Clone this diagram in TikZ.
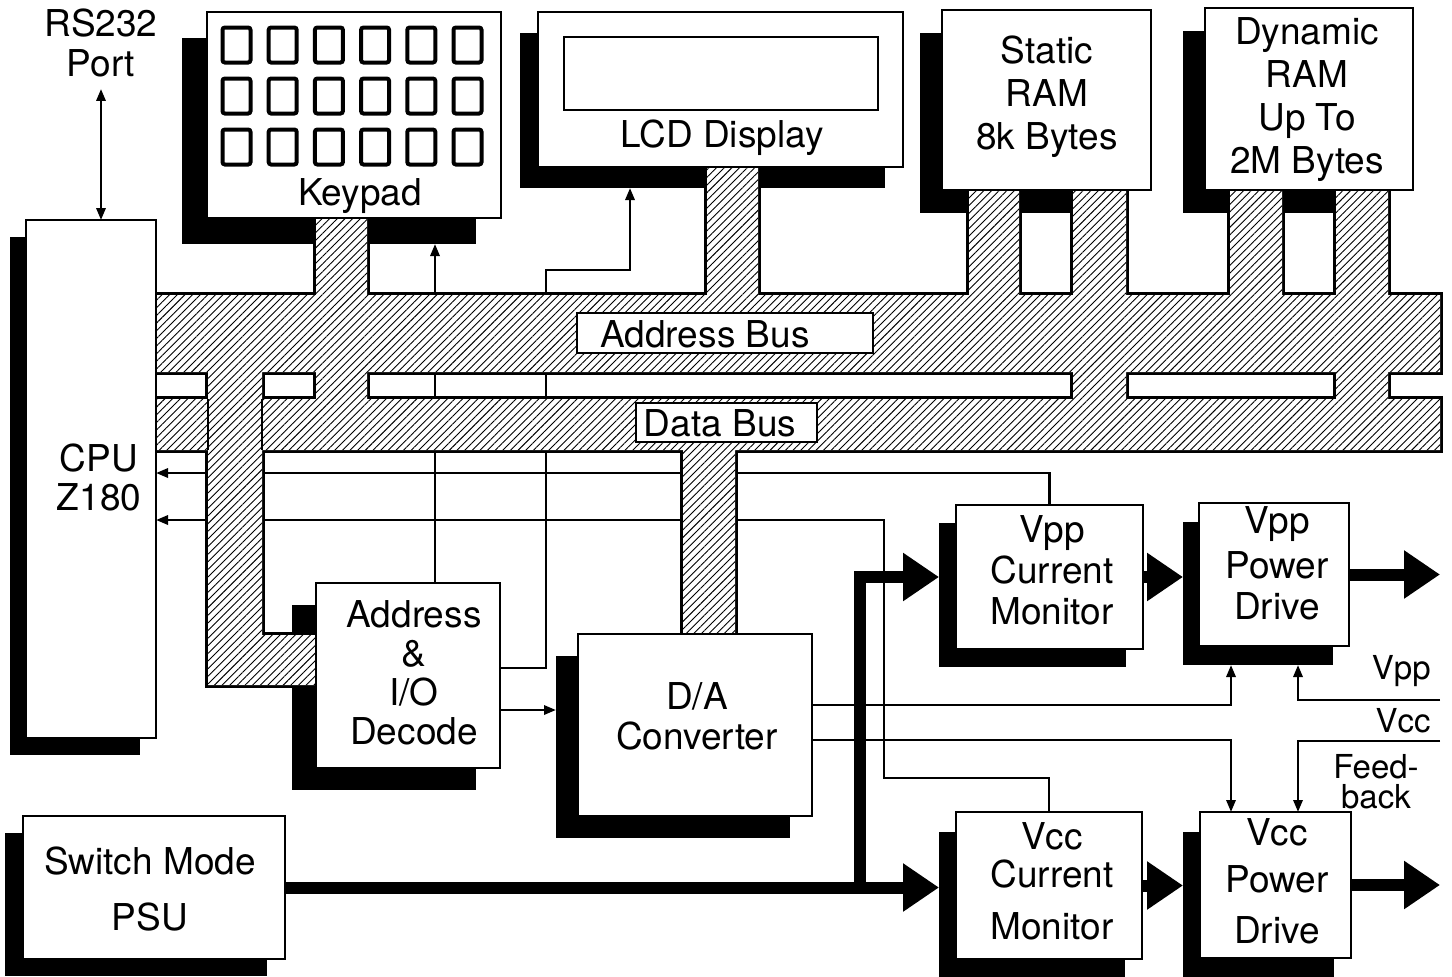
\documentclass[tikz,border=0pt]{standalone}
\usepackage{fontspec}
\setmainfont{TeX Gyre Heros}
\usetikzlibrary{fit,arrows.meta,patterns.meta}

\pgfdeclarelayer{shade}
\pgfdeclarelayer{wires}
\pgfdeclarelayer{bus}
\pgfsetlayers{shade,wires,bus,main}

\tikzset{
  txt/.style={font=\fontsize{18.5}{21.5}\selectfont, align=center, inner sep=0pt},
  sidetxt/.style={font=\fontsize{16.5}{15}\selectfont, align=center, inner sep=0pt},
  box/.style={draw, fill=white, line width=0.75pt, inner sep=0pt, outer sep=0pt},
  shadowbox/.style={fill=black, inner sep=0pt, outer sep=0pt},
  buslabel/.style={draw, fill=white, line width=0.75pt, inner sep=0pt},
  key/.style={line width=2pt, rounded corners=1.2pt},
  wire/.style={line width=1.25pt, >={Triangle[length=6pt,width=4.6pt]}},
  fat/.style={line width=6pt, -{Triangle[length=18pt,width=23pt]}},
  busedge/.style={line width=2.8pt},
  hatch/.style={pattern={Lines[angle=45,distance=2.7pt,line width=0.45pt]}},
  buspath/.style={insert path={
    (140,295) rectangle (1440,372)  (140,399) rectangle (1440,450)
    (316,200) rectangle (367,410)   (707,150) rectangle (758,300)
    (969,170) rectangle (1019,300)  (1073,170) rectangle (1126,410)
    (1230,170) rectangle (1282,300) (1336,170) rectangle (1388,410)
    (208,360) rectangle (262,685)   (208,635) rectangle (330,685)
    (683,440) rectangle (735,650)}},
}

\begin{document}
\begin{tikzpicture}[x=0.5pt, y=-0.5pt]
\useasboundingbox (0,0) rectangle (1452,976);

% blocks
\node[box, fit={(26,220) (156,738)}] (cpu) {};
\node[box, fit={(207,12) (501,218)}] (kp) {};
\node[box, fit={(538,12) (903,167)}] (lcd) {};
\node[box, fit={(942,10) (1151,190)}] (sram) {};
\node[box, fit={(1205,8) (1413,190)}] (dram) {};
\node[box, fit={(316,583) (500,768)}] (adec) {};
\node[box, fit={(578,634) (812,816)}] (dac) {};
\node[box, fit={(956,505) (1143,649)}] (vppcm) {};
\node[box, fit={(1199,503) (1349,646)}] (vpppd) {};
\node[box, fit={(956,812) (1142,959)}] (vcccm) {};
\node[box, fit={(1200,812) (1351,958)}] (vccpd) {};
\node[box, fit={(23,816) (285,959)}] (psu) {};

% block texts
\node[txt] (cpu-t) at (99,477) {CPU\\[-2pt]Z180};
\node[txt] (sram-t) at (1047,97) {Static\\RAM\\8k Bytes};
\node[txt] (dram-t) at (1307,100) {Dynamic\\RAM\\Up To\\2M Bytes};
\node[txt] (adec-t) at (414,673) {Address\\[-2pt]\&\\[-2pt]I/O\\[-2pt]Decode};
\node[txt] (dac-t) at (697,716) {D/A\\[-1.5pt]Converter};
\node[txt] (vppcm-t) at (1052,570) {Vpp\\[-1pt]Current\\[-1pt]Monitor};
\node[txt] (vpppd-t) at (1277,563) {Vpp\\[1pt]Power\\[-1pt]Drive};
\node[txt] (vcccm-t) at (1052,881) {Vcc\\[-2.5pt]Current\\[4.5pt]Monitor};
\node[txt] (vccpd-t) at (1277,881) {Vcc\\[2pt]Power\\[4pt]Drive};
\node[txt] (psu-t) at (150,889) {Switch Mode\\[6.5pt]PSU};

% keypad and display faces
\foreach \i in {0,...,5}
  \foreach \j in {0,1,2}
    \draw[key] (222.5+46.2*\i, 27.5+51*\j) rectangle ++(28,35);
\node[txt, anchor=base] (kp-t) at (360,205) {Keypad};
\draw[line width=0.75pt] (564,37) rectangle (878,110);
\node[txt, anchor=base] (lcd-t) at (722,147) {LCD Display};

\node[txt, anchor=base] (rs) at (101,36) {RS232};
\node[txt, anchor=base] (port) at (101,76) {Port};

% shadows
\begin{pgfonlayer}{shade}
  \foreach \n/\dx/\dy in {cpu/-16/17, kp/-25/26, lcd/-18/21, sram/-22/23,
      dram/-22/23, adec/-24/22, dac/-22/22, vppcm/-17/18, vpppd/-16/19,
      vcccm/-17/20, vccpd/-17/20, psu/-18/17}
    \node[shadowbox, fit=(\n), shift={(\dx,\dy)}] (\n-s) {};
\end{pgfonlayer}

\coordinate (vppin) at (1440,700);
\coordinate (vccin) at (1440,741);

% control lines
\begin{pgfonlayer}{wires}
  \draw[wire,<->] ([yshift=-6pt]port.south) -- (port.south |- cpu.north);
  \draw[wire,->] (adec.north -| 435,0) -- (435,0 |- kp-s.south);
  \draw[wire,->] (adec.east |- 0,668) -| (546,270) -| (630,0 |- lcd-s.south);
  \draw[wire,->] (vppcm.north) |- (cpu.east |- 0,473);
  \draw[wire,->] (vcccm.north) -- ++(0,-34) -| (884,520) -- (cpu.east |- 0,520);
  \draw[wire,->] (adec.east |- 0,710) -- (dac-s.west |- 0,710);
  \draw[wire,->] (dac.east |- 0,705) -| (1231,0 |- vpppd-s.south);
  \draw[wire,->] (dac.east |- 0,740) -| (1231,0 |- vccpd.north);
  \draw[wire,->] (vppin) -| (1298,0 |- vpppd-s.south);
  \draw[wire,->] (vccin) -| (1298,0 |- vccpd.north);
\end{pgfonlayer}

% buses
\begin{pgfonlayer}{bus}
  \draw[busedge] [buspath];
  \fill[white] [buspath];
  \fill[hatch] [buspath];
  \draw[line width=1.4pt] (208,399) -- (208,450) (262,399) -- (262,450);
\end{pgfonlayer}
\node[buslabel, fit={(577,313) (873,353)}] (abox) {};
\node[txt] (abus) at (705,334) {Address Bus};
\node[buslabel, fit={(636,403) (817,442)}] (dbox) {};
\node[txt] (dbus) at (720,423) {Data Bus};

% power
\coordinate (tap) at (860,0 |- psu.east);
\draw[fat] (psu.east) -- (psu.east -| vcccm-s.west);
\draw[fat] (tap) |- (vppcm-s.west |- vppcm.west);
\draw[fat] (vppcm.east) -- (vppcm.east -| vpppd-s.west);
\draw[fat] (vcccm.east) -- (vcccm.east -| vccpd-s.west);
\draw[fat] (vpppd.east) -- ++(91,0);
\draw[fat] (vccpd.east) -- ++(89,0);

\node[sidetxt, anchor=base east] (vpp-t) at (1431,679) {Vpp};
\node[sidetxt, anchor=base east] (vcc-t) at (1431,732) {Vcc};
\node[sidetxt, anchor=north] (fb-t) at (1376,754) {Feed-\\back};
\end{tikzpicture}
\end{document}
